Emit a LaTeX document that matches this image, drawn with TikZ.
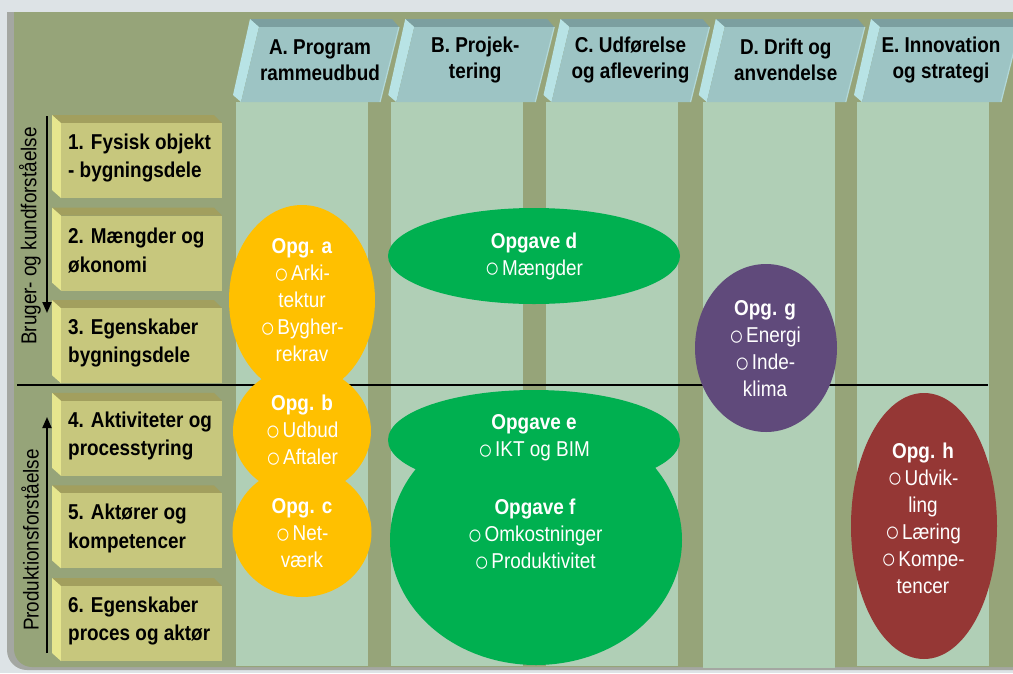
\documentclass[tikz,border=0pt]{standalone}
\usepackage{fontspec}
\setmainfont{Liberation Sans}[FakeStretch=0.88]
\usetikzlibrary{arrows.meta,shapes.geometric}
\definecolor{bgout}{HTML}{DDE3E6}
\definecolor{edgegray}{HTML}{A4A7A2}
\definecolor{olive}{HTML}{96A479}
\definecolor{colgreen}{HTML}{B0CFB6}
\definecolor{hfront}{HTML}{9DC4C4}
\definecolor{htop}{HTML}{7C9FA0}
\definecolor{hleft}{HTML}{B8E3E5}
\definecolor{hlight}{HTML}{B2D8D8}
\definecolor{bfront}{HTML}{C7C77D}
\definecolor{btop}{HTML}{A29F5E}
\definecolor{bleft}{HTML}{E6E68E}
\definecolor{opgyellow}{HTML}{FFC000}
\definecolor{opggreen}{HTML}{00B050}
\definecolor{opgpurple}{HTML}{604A7B}
\definecolor{opgred}{HTML}{953735}
\newcommand\bul{\raisebox{-2.6pt}{\fontsize{28}{28}\selectfont ○}\hspace{2.2pt}}
\tikzset{
 hdrtext/.style={font=\bfseries\fontsize{21.5}{26}\selectfont, align=center, text=black, inner sep=0pt},
 boxtext/.style={font=\bfseries\fontsize{21.5}{28.5}\selectfont, align=left, anchor=west, inner sep=0pt},
 opgtext/.style={font=\fontsize{21.5}{27}\selectfont, align=center, text=white, inner sep=0pt},
 opgshape/.style={ellipse, inner sep=0pt, draw=none},
 sidetext/.style={font=\fontsize{21.5}{26}\selectfont, rotate=90, inner sep=0pt},
 axisarrow/.style={line width=2pt, -{Triangle[width=9pt,length=11pt]}},
}
\newcommand\hdr[4]{%
 \begin{scope}[xshift=#1pt]
  \fill[htop] (250,19) -- (392,19) -- (399,27) -- (259,27) -- cycle;
  \fill[hleft] (250,19) -- (259,27) -- (241,102) -- (233,95) -- cycle;
  \fill[hfront] (259,27) -- (399,27) -- (380,102) -- (241,102) -- cycle;
  \draw[hlight, line width=1.2pt] (399,27) -- (380,102);
  \node[hdrtext] (#2) at (320,60) {#3\\#4};
 \end{scope}}
\newcommand\rowbox[4]{%
 \begin{scope}[yshift=-#1pt]
  \fill[btop] (52,115) -- (214,115) -- (222,123) -- (61,123) -- cycle;
  \fill[bleft] (52,115) -- (61,123) -- (61,198) -- (52,190) -- cycle;
  \fill[bfront] (61,123) rectangle (222,198);
  \node[boxtext] (#2) at (68,158) {#3\\#4};
 \end{scope}}
\begin{document}
\begin{tikzpicture}[x=1pt,y=-1pt]
\useasboundingbox (0,0) rectangle (1013,673);
% background
\fill[bgout] (0,0) rectangle (1013,673);
\fill[edgegray] (1040,12) -- (7,12) [rounded corners=20pt] -- (7,670) -- (1040,670) [sharp corners] -- cycle;
\fill[olive] (1040,12) -- (14,12) [rounded corners=18pt] -- (14,667) -- (1040,667) [sharp corners] -- cycle;
% columns
\fill[colgreen] (236,102) rectangle (368,666);
\fill[colgreen] (391,102) rectangle (523,666);
\fill[colgreen] (546,102) rectangle (678,666);
\fill[colgreen] (703,102) rectangle (835,668);
\fill[colgreen] (857,102) rectangle (989,666);
% headers
\hdr{0}{hA}{A. Program}{rammeudbud}
\hdr{155.25}{hB}{B. Projek-}{tering}
\hdr{310.5}{hC}{C. Udførelse}{og aflevering}
\hdr{465.75}{hD}{D. Drift og}{anvendelse}
\hdr{621}{hE}{E. Innovation}{og strategi}
% row boxes
\rowbox{0}{r1}{1. Fysisk objekt}{- bygningsdele}
\rowbox{92.6}{r2}{2. Mængder og}{økonomi}
\rowbox{185.2}{r3}{3. Egenskaber}{bygningsdele}
\rowbox{277.8}{r4}{4. Aktiviteter og}{processtyring}
\rowbox{370.4}{r5}{5. Aktører og}{kompetencer}
\rowbox{463}{r6}{6. Egenskaber}{proces og aktør}
% divider line and axes
\coordinate (hl1) at (17,385);
\coordinate (hl2) at (988,385);
\draw[black, line width=1.3pt] (hl1) -- (hl2);
\coordinate (a1s) at (47,116);
\coordinate (a1e) at (47,313);
\draw[axisarrow] (a1s) -- (a1e);
\coordinate (a2s) at (47,653);
\coordinate (a2e) at (47,417);
\draw[axisarrow] (a2s) -- (a2e);
\node[sidetext] (lab1) at (30,236) {Bruger- og kundforståelse};
\node[sidetext] (lab2) at (30,540) {Produktionsforståelse};
% ellipse shapes
\node[opgshape, fill=opgyellow, minimum width=146pt, minimum height=190pt] (ea) at (302,300) {};
\node[opgshape, fill=opgyellow, minimum width=138pt, minimum height=128pt] (eb) at (302,431) {};
\node[opgshape, fill=opgyellow, minimum width=139pt, minimum height=130pt] (ec) at (302,532) {};
\node[opgshape, fill=opggreen, minimum width=292pt, minimum height=96pt] (ed) at (534,256) {};
\node[opgshape, fill=opggreen, minimum width=292pt, minimum height=100pt] (ee) at (534,440) {};
\node[opgshape, fill=opggreen, minimum width=292pt, minimum height=250pt] (ef) at (536,540) {};
\node[opgshape, fill=opgpurple, minimum width=142pt, minimum height=168pt] (eg) at (766,348) {};
\node[opgshape, fill=opgred, minimum width=146pt, minimum height=266pt] (eh) at (924,526) {};
% ellipse texts
\node[opgtext] (ta) at (302,300) {\textbf{Opg. a}\\\bul Arki-\\tektur\\\bul Bygher-\\rekrav};
\node[opgtext] (tb) at (302,431) {\textbf{Opg. b}\\\bul Udbud\\\bul Aftaler};
\node[opgtext] (tc) at (302,533) {\textbf{Opg. c}\\\bul Net-\\værk};
\node[opgtext] (td) at (534,256) {\textbf{Opgave d}\\\bul Mængder};
\node[opgtext] (te) at (534,438) {\textbf{Opgave e}\\\bul IKT og BIM};
\node[opgtext] (tf) at (535,535) {\textbf{Opgave f}\\\bul Omkostninger\\\bul Produktivitet};
\node[opgtext] (tg) at (765,349) {\textbf{Opg. g}\\\bul Energi\\\bul Inde-\\klima};
\node[opgtext] (th) at (923,518) {\textbf{Opg. h}\\\bul Udvik-\\ling\\\bul Læring\\\bul Kompe-\\tencer};
\end{tikzpicture}
\end{document}
